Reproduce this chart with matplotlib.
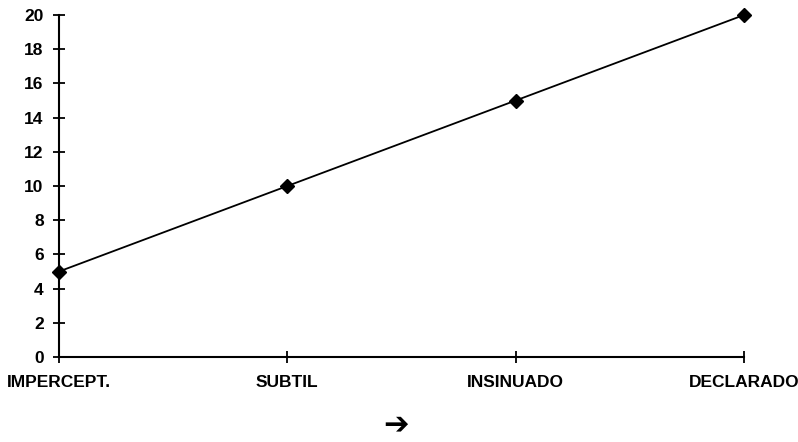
import matplotlib
matplotlib.use("Agg")
import matplotlib.pyplot as plt

# Chart data
categories = ["IMPERCEPT.", "SUBTIL", "INSINUADO", "DECLARADO"]
values = [5, 10, 15, 20]
yticks = list(range(0, 21, 2))

plt.rcParams['font.family'] = ['Liberation Sans', 'DejaVu Sans']

fig = plt.figure(figsize=(7.98, 4.42), dpi=100)
ax = fig.add_axes([59 / 798, 1 - 357 / 442, (744 - 59) / 798, (357 - 15) / 442])

x = list(range(len(categories)))
ax.plot(x, values, color="black", linewidth=1.3, marker="D", markersize=7,
        markerfacecolor="black", clip_on=False, zorder=3)

ax.set_xlim(0, len(categories) - 1)
ax.set_ylim(0, 20)
ax.set_xticks(x)
ax.set_xticklabels(categories, fontsize=12.5, fontweight="bold")
ax.set_yticks(yticks)
ax.set_yticklabels([str(v) for v in yticks], fontsize=12.5, fontweight="bold")

for s in ["top", "right"]:
    ax.spines[s].set_visible(False)
for s in ["left", "bottom"]:
    ax.spines[s].set_linewidth(1.5)
ax.tick_params(axis="both", direction="inout", length=8, width=1.3)
ax.tick_params(axis="x", pad=9)
ax.tick_params(axis="y", pad=7)

# Arrow symbol below the axis
fig.text(396 / 798, 1 - 425 / 442, "\u2794", fontsize=22, ha="center", va="center",
         family=["DejaVu Sans"], fontweight="bold")

fig.savefig("out.png", dpi=100)
